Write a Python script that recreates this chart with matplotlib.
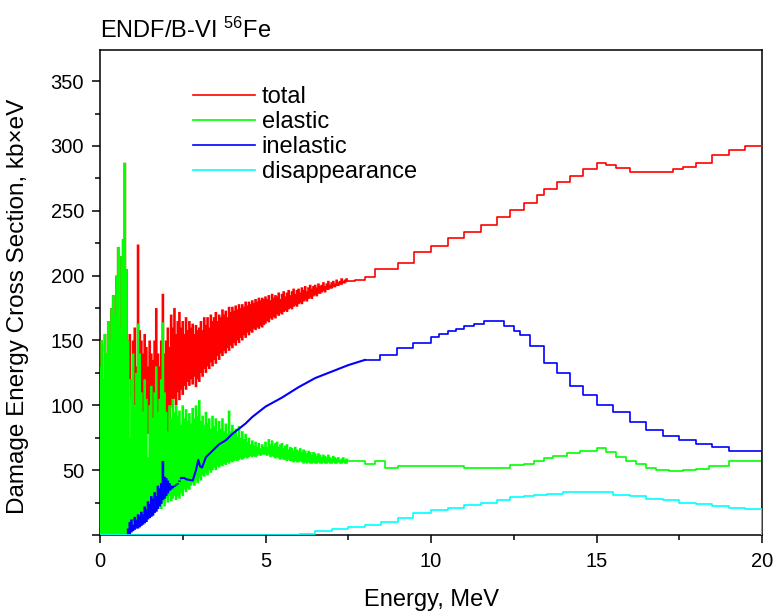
import numpy as np
import matplotlib
matplotlib.use('Agg')
import matplotlib.pyplot as plt
from matplotlib.ticker import MultipleLocator, FuncFormatter

# resonance region 0 - 7.5 MeV: top / bottom of the fluctuating band, 0.05 MeV bins
e_band = np.arange(0, 7.5, 0.05)

elastic_top = [130, 150, 120, 155, 140, 165, 150, 175, 185, 170,
               200, 222, 160, 215, 228, 287, 205, 150, 75, 120,
               140, 100, 125, 163, 140, 110, 95, 120, 105, 60,
               100, 115, 90, 110, 130, 95, 105, 120, 164, 110,
               95, 80, 100, 90, 105, 95, 100, 92, 96, 85,
               100, 90, 97, 88, 94, 86, 98, 90, 100, 92,
               104, 88, 92, 85, 95, 86, 90, 82, 92, 84,
               90, 80, 88, 82, 90, 80, 86, 78, 96, 80,
               85, 78, 82, 76, 84, 75, 80, 74, 78, 72,
               75, 70, 73, 69, 72, 68, 71, 67, 70, 68,
               72, 68, 74, 70, 73, 69, 71, 72, 68, 70,
               71, 67, 69, 70, 66, 68, 67, 65, 68, 66,
               65, 67, 64, 66, 65, 63, 65, 64, 62, 64,
               63, 61, 63, 62, 60, 62, 61, 60, 62, 60,
               59, 61, 60, 59, 60, 58, 59, 60, 58, 59]
elastic_bot = [0, 0, 0, 0, 0, 0, 0, 0, 0, 0,
               0, 0, 0, 0, 0, 0, 0, 5, 5, 8,
               10, 5, 12, 8, 10, 15, 12, 15, 10, 18,
               15, 20, 15, 22, 18, 20, 25, 20, 25, 22,
               28, 25, 30, 26, 28, 30, 27, 30, 28, 32,
               30, 35, 33, 36, 35, 38, 40, 38, 42, 40,
               44, 42, 46, 45, 48, 46, 50, 48, 50, 52,
               50, 53, 52, 54, 53, 55, 54, 56, 55, 57,
               56, 57, 58, 57, 58, 59, 58, 59, 60, 59,
               60, 61, 60, 61, 60, 61, 62, 61, 62, 62,
               62, 61, 62, 60, 61, 60, 59, 60, 59, 58,
               59, 58, 58, 57, 58, 57, 57, 56, 57, 56,
               56, 57, 56, 55, 56, 55, 56, 55, 55, 56,
               55, 55, 56, 55, 55, 56, 55, 55, 56, 55,
               55, 56, 55, 55, 56, 55, 55, 56, 55, 55]

total_top = [130, 150, 120, 155, 140, 165, 150, 175, 185, 170,
             200, 222, 160, 215, 228, 287, 205, 150, 155, 120,
             150, 160, 130, 224, 158, 150, 140, 155, 145, 130,
             150, 140, 135, 150, 175, 140, 130, 150, 186, 140,
             150, 160, 145, 170, 160, 175, 155, 165, 172, 160,
             165, 155, 168, 158, 165, 160, 163, 155, 162, 158,
             160, 165, 158, 168, 162, 168, 160, 170, 165, 168,
             172, 165, 170, 168, 174, 170, 173, 168, 176, 172,
             176, 173, 177, 174, 178, 175, 178, 176, 180, 177,
             180, 178, 181, 179, 182, 180, 183, 181, 183, 182,
             184, 182, 185, 181, 186, 183, 185, 184, 187, 182,
             186, 188, 184, 187, 189, 185, 188, 190, 186, 189,
             190, 187, 191, 189, 192, 188, 191, 193, 190, 192,
             193, 191, 194, 192, 193, 195, 192, 194, 196, 193,
             195, 196, 194, 197, 195, 196, 198, 196, 197, 198]
total_bot = [0, 0, 0, 0, 0, 0, 0, 0, 0, 0,
             0, 0, 0, 0, 0, 0, 0, 0, 120, 105,
             110, 100, 108, 105, 110, 100, 95, 105, 98, 78,
             100, 95, 90, 100, 95, 92, 88, 95, 100, 90,
             85, 75, 90, 100, 98, 105, 100, 110, 104, 112,
             108, 115, 112, 118, 115, 120, 116, 122, 114, 120,
             118, 125, 122, 128, 125, 130, 128, 133, 130, 135,
             132, 138, 135, 140, 138, 142, 140, 144, 142, 146,
             144, 148, 146, 150, 148, 152, 150, 154, 152, 156,
             154, 157, 156, 159, 158, 160, 159, 161, 160, 162,
             163, 165, 164, 167, 166, 168, 167, 170, 169, 171,
             170, 172, 173, 172, 174, 175, 174, 176, 177, 176,
             178, 179, 178, 180, 181, 180, 182, 183, 182, 184,
             185, 184, 186, 186, 187, 188, 187, 189, 189, 190,
             190, 191, 191, 192, 192, 193, 193, 194, 194, 195]

# inelastic fluctuates only between 0.85 and 2.5 MeV
e_inel_band = np.arange(0.85, 2.5, 0.05)
inelastic_top = [5, 10, 12, 8, 14, 12, 16, 15, 18, 16,
                 22, 20, 26, 24, 30, 28, 33, 30, 38, 36,
                 40, 57, 45, 44, 42, 40, 38, 38, 38, 39,
                 40, 42, 44]
inelastic_bot = [0, 0, 2, 3, 4, 5, 5, 6, 7, 8,
                 9, 10, 12, 13, 14, 15, 17, 18, 20, 22,
                 24, 27, 28, 30, 32, 34, 35, 36, 37, 38,
                 39, 41, 43]

# above the band
e_total = [7.5, 7.7, 8.0, 8.3, 9.0, 9.5, 10.0, 10.5, 11.0, 11.5,
           12.0, 12.4, 12.8, 13.2, 13.4, 13.8, 14.2, 14.6, 15.0, 15.3,
           15.6, 16.0, 16.5, 17.0, 17.3, 17.6, 18.0, 18.5, 19.0, 19.5, 20.0]
total = [196, 197, 199, 205, 210, 218, 223, 229, 234, 239,
         245, 251, 256, 262, 267, 272, 277, 282, 287, 285,
         283, 280, 280, 280, 282, 284, 287, 293, 297, 300, 301]

e_elastic = [7.5, 7.7, 8.0, 8.3, 8.6, 9.0, 10.0, 11.0, 12.0, 12.4,
             12.8, 13.1, 13.4, 13.7, 14.1, 14.5, 15.0, 15.3, 15.6, 15.9,
             16.2, 16.5, 16.8, 17.2, 17.6, 18.0, 18.4, 19.0, 19.5, 20.0]
elastic = [57, 57, 55, 57, 52, 53, 53, 52, 52, 54,
           55, 57, 59, 61, 63, 65, 67, 64, 60, 57,
           55, 52, 50, 49, 50, 51, 53, 57, 57, 0]

e_inel_smooth = [2.45, 2.55, 2.6, 2.8, 2.9, 2.97, 3.02, 3.08, 3.2, 3.4,
                 3.6, 3.8, 4.0, 4.2, 4.4, 4.6, 4.8, 5.0, 5.5, 6.0,
                 6.5, 7.0, 7.5, 8.0]
inel_smooth = [44, 44, 43, 42, 50, 58, 53, 52, 60, 65,
               70, 73, 78, 82, 86, 91, 95, 99, 106, 114,
               121, 126, 131, 135]

e_inelastic = [8.0, 8.45, 8.97, 9.46, 10.0, 10.25, 10.5, 10.75, 11.0, 11.3,
               11.6, 11.9, 12.2, 12.5, 12.7, 13.0, 13.4, 13.8, 14.2, 14.6,
               15.0, 15.5, 16.0, 16.5, 17.0, 17.5, 18.0, 18.5, 19.0, 19.5, 20.0]
inelastic = [135, 139, 144, 148, 153, 155, 157, 159, 161, 163,
             165, 165, 161, 157, 154, 146, 133, 125, 115, 108,
             100, 95, 87, 81, 76, 73, 70, 68, 65, 65, 0]

e_disap = [0.0, 5.5, 6.0, 6.5, 7.0, 7.5, 8.0, 8.5, 9.0, 9.46,
           10.0, 10.5, 11.0, 11.5, 12.0, 12.4, 12.8, 13.1, 13.5, 14.0,
           14.5, 15.0, 15.5, 16.0, 16.5, 17.0, 17.5, 18.0, 18.5, 19.0,
           19.5, 20.0]
disap = [0, 0, 1, 3, 5, 6, 8, 10, 13, 17,
         19, 21, 23, 25, 27, 29, 30, 31, 32, 33,
         33, 33, 31, 30, 28, 27, 25, 24, 22, 21,
         20, 0]

plt.rcParams['font.family'] = 'Liberation Sans'
plt.rcParams['mathtext.fontset'] = 'custom'
plt.rcParams['mathtext.rm'] = 'Liberation Sans'
plt.rcParams['mathtext.default'] = 'regular'

RED, GREEN, BLUE, CYAN = '#ff0000', '#00ff00', '#0000ff', '#00ffff'

fig = plt.figure(figsize=(7.73, 6.12), dpi=100)
ax = fig.add_axes([100 / 773, 1 - 535 / 612, 662 / 773, 485 / 612])

lw = 1.2
bw = 1.9  # band bar width, wide enough that neighbouring bars touch

ax.vlines(e_band, total_bot, total_top, color=RED, lw=bw, zorder=3, snap=False)
ax.plot(e_total, total, color=RED, lw=lw, drawstyle='steps-post', label='total', zorder=3)
ax.vlines(e_band, elastic_bot, elastic_top, color=GREEN, lw=bw, zorder=3, snap=False)
ax.plot(e_elastic, elastic, color=GREEN, lw=lw, drawstyle='steps-post', label='elastic', zorder=3)
ax.vlines(e_inel_band, inelastic_bot, inelastic_top, color=BLUE, lw=bw, zorder=3, snap=False)
ax.plot(e_inel_smooth, inel_smooth, color=BLUE, lw=1.5, zorder=3)
ax.plot(e_inelastic, inelastic, color=BLUE, lw=lw, drawstyle='steps-post', label='inelastic', zorder=3)
ax.plot(e_disap, disap, color=CYAN, lw=lw, drawstyle='steps-post', label='disappearance', zorder=3)

ax.set_xlim(0, 20)
ax.set_ylim(0, 374)
ax.xaxis.set_major_locator(MultipleLocator(5))
ax.xaxis.set_minor_locator(MultipleLocator(2.5))
ax.yaxis.set_major_locator(MultipleLocator(50))
ax.yaxis.set_minor_locator(MultipleLocator(25))
ax.yaxis.set_major_formatter(FuncFormatter(lambda v, p: '' if v == 0 else '%d' % v))
ax.tick_params(which='both', direction='out', top=False, right=False,
               width=1.1, labelsize=14.5)
ax.tick_params(which='major', length=5.5)
ax.tick_params(which='minor', length=3.5)
ax.tick_params(axis='x', which='major', pad=7)
ax.tick_params(axis='y', which='major', pad=6)
for s in ax.spines.values():
    s.set_linewidth(1.1)

ax.set_xlabel('Energy, MeV', fontsize=17, labelpad=13)
ax.set_ylabel('Damage Energy Cross Section, kb×eV', fontsize=17.5)
ax.yaxis.set_label_coords(-0.108, 0.472)
ax.set_title('ENDF/B-VI $^{56}$Fe', loc='left', fontsize=17, pad=9)

ax.legend(loc='upper left', bbox_to_anchor=(0.14, 0.925), frameon=False,
          fontsize=17, handlelength=2.63, handletextpad=0.3, labelspacing=0.12,
          borderpad=0, borderaxespad=0)

fig.savefig('out.png', dpi=100)
